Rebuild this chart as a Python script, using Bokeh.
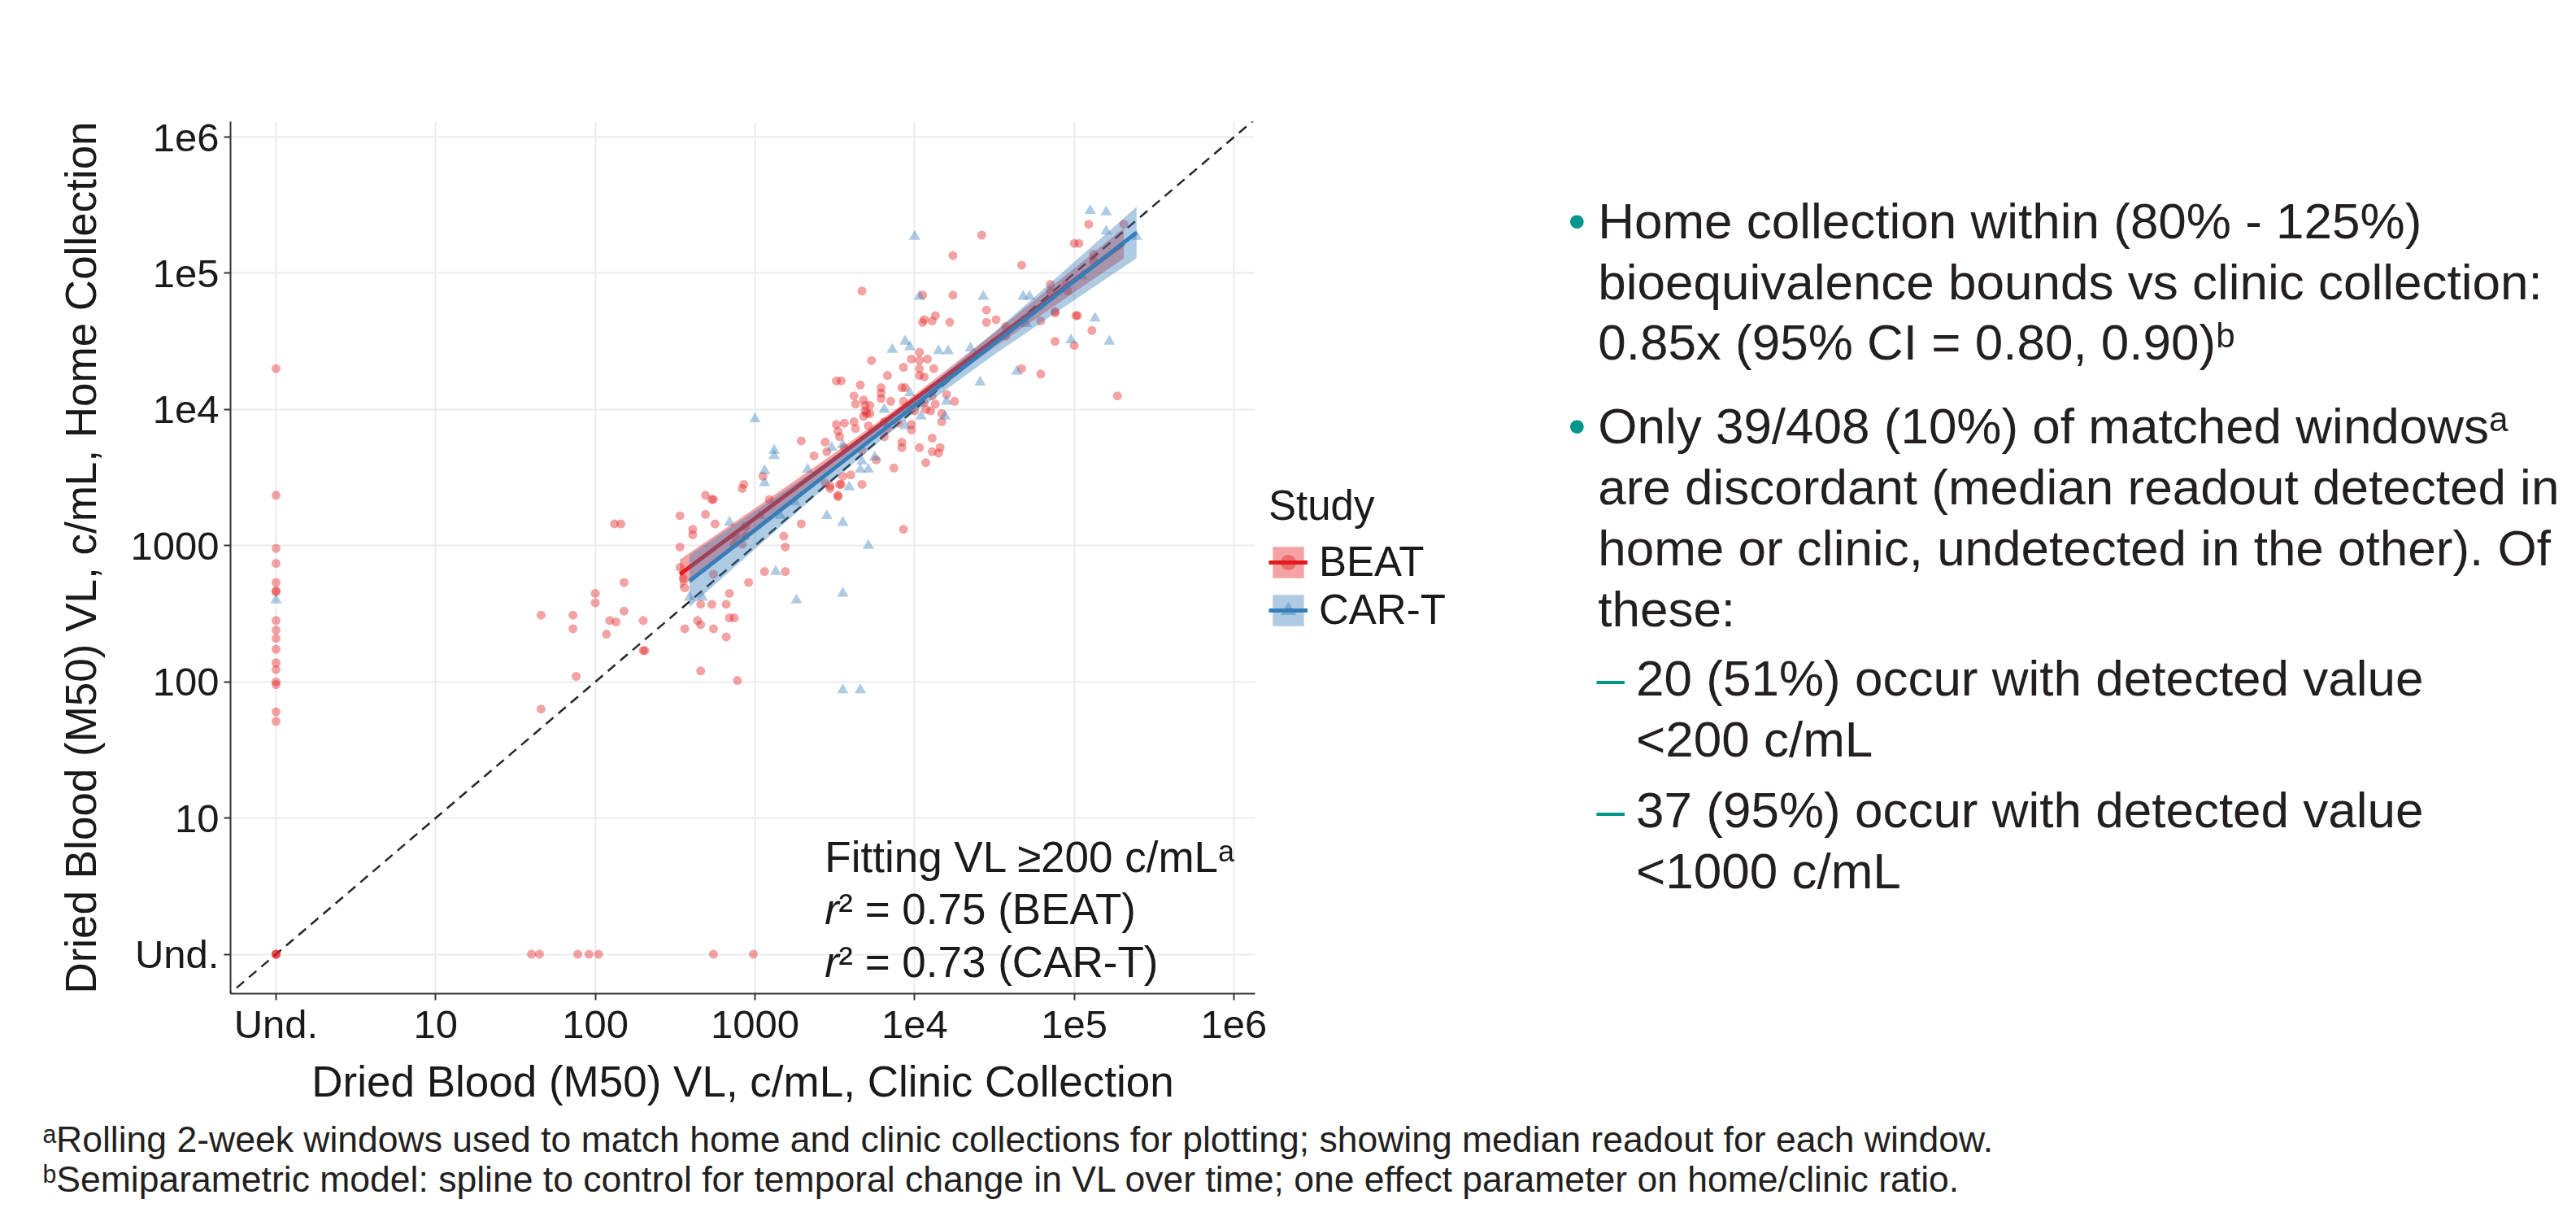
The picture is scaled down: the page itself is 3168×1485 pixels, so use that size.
import numpy as np
from bokeh.plotting import figure
from bokeh.models import Range1d, FixedTicker, Legend, LegendItem, Label
from bokeh.layouts import row, column
from bokeh.embed import file_html
from bokeh.resources import INLINE
from bokeh.core.properties import value

FONT = "Liberation Sans"
RED = "#E41A1C"
BLUE = "#377EB8"
TEAL = "#00968A"
INK = "#1A1A1A"

U = 0.0  # "Und." (undetected) is drawn at log10 = 0

# ---------------- data (log10 c/mL); x = clinic, y = home ----------------
beat_clinic_log = (
    [U] * 20
    + [1.60, 1.65, 1.89, 1.96, 2.02, 2.74, 2.99]
    + [2.69, 2.73, 2.74, 2.53, 2.69, 2.75, 2.12, 2.16, 2.61, 2.61,
       3.09, 3.52, 3.47, 2.92, 3.18, 3.29, 3.19, 3.19, 3.06, 2.96,
       2.53, 2.53, 2.56, 2.74, 2.84, 2.82, 2.73, 2.66, 2.84, 2.87,
       2.64, 2.66, 2.74, 2.56, 2.82, 2.66, 2.89, 2.18, 2.00, 2.00,
       2.18, 2.30, 2.09, 2.13, 2.07, 1.86, 1.86, 1.66, 2.30, 2.31,
       1.88, 1.66, 2.88, 2.94, 2.94, 2.92, 2.87, 2.55]
    + [4.05, 4.06, 4.11, 4.13, 4.22, 4.45, 4.45, 4.51, 4.57, 4.57,
       4.79, 4.88, 4.88, 5.00, 5.02, 5.01, 5.11, 4.67, 4.79, 3.73,
       3.93, 4.03, 4.03, 3.98, 4.08, 4.03, 4.03, 4.06, 4.12, 3.83,
       3.51, 3.54, 3.66, 3.79, 3.79, 3.79, 3.92, 3.94, 3.62, 3.63,
       3.68, 3.69, 3.72, 3.85, 3.69, 3.70, 3.72, 3.68, 3.93, 3.98,
       4.00, 4.06, 4.11, 4.20, 4.25, 4.07, 4.10, 4.13, 4.17, 4.17]
    + [3.51, 3.56, 3.62, 3.63, 3.52, 3.53, 3.71, 3.81, 3.83, 3.81,
       3.90, 3.98, 3.98, 4.11, 3.44, 3.56, 3.67, 3.92, 3.92, 4.03,
       4.11, 4.15, 4.16, 4.07, 3.76, 3.87, 3.55, 3.53, 3.54, 3.44,
       3.47, 3.67, 3.52, 3.93, 3.37, 3.29, 3.45, 3.05, 2.93, 3.60]
    + [5.09, 5.31, 5.00, 5.03, 5.12, 5.12, 4.67, 4.85, 4.85, 4.95,
       4.96, 4.88, 5.27, 4.42, 4.24, 3.67, 4.05, 4.24]
)
beat_home_log = (
    [4.30, 3.37, 2.98, 2.87, 2.73, 2.67, 2.66, 2.45, 2.38, 2.32,
     2.24, 2.14, 2.09, 2.00, 1.98, 1.78, 1.71, U, U, U]
    + [U] * 7
    + [3.37, 3.34, 3.34, 3.22, 3.23, 3.16, 3.16, 3.16, 3.12, 3.08,
       3.34, 3.36, 3.42, 3.42, 3.07, 3.16, 2.99, 2.81, 2.81, 2.73,
       2.99, 2.84, 2.69, 2.79, 2.65, 2.57, 2.57, 2.57, 2.47, 2.47,
       2.45, 2.42, 2.39, 2.39, 2.33, 2.08, 2.01, 2.73, 2.65, 2.58,
       2.52, 2.45, 2.45, 2.44, 2.35, 2.49, 2.39, 2.49, 2.23, 2.23,
       2.04, 1.80, 3.07, 3.14, 3.07, 3.01, 3.01, 2.76]
    + [4.64, 4.66, 4.65, 4.69, 4.64, 4.73, 4.64, 4.66, 4.61, 4.54,
       4.65, 4.71, 4.50, 4.47, 4.69, 4.69, 4.58, 4.30, 4.26, 4.36,
       4.31, 4.42, 4.36, 4.37, 4.37, 4.30, 4.25, 4.24, 4.30, 4.25,
       4.21, 4.21, 4.18, 4.16, 4.12, 4.08, 4.16, 4.16, 4.10, 4.04,
       4.07, 4.03, 4.03, 4.06, 3.99, 3.97, 3.97, 3.95, 4.06, 4.00,
       3.99, 4.05, 4.10, 4.11, 4.06, 4.00, 3.99, 4.04, 3.97, 3.91]
    + [3.89, 3.90, 3.91, 3.86, 3.84, 3.80, 3.88, 3.91, 3.86, 3.80,
       3.90, 3.89, 3.85, 3.79, 3.76, 3.72, 3.70, 3.76, 3.72, 3.72,
       3.69, 3.68, 3.72, 3.61, 3.63, 3.57, 3.51, 3.45, 3.45, 3.46,
       3.44, 3.45, 3.37, 3.12, 3.66, 3.77, 3.69, 3.51, 3.45, 3.52]
    + [5.36, 5.36, 5.22, 5.22, 5.14, 5.09, 5.06, 4.92, 4.87, 4.92,
       4.87, 4.72, 4.10, 5.28, 5.13, 4.87, 4.84, 4.84]
)
cart_clinic_log = [
    2.84, 3.03, 3.16, 3.25, 3.45, 3.55, 3.13, 3.26, 3.55, 3.55,
    3.66, 2.59, 2.67, 3.86, 3.94, 3.97, 4.15, 4.21, 4.35, 5.13,
    4.98, 4.64, 4.41, 4.20, 4.19, 4.04, 3.97, 3.81, 3.94, 3.48,
    3.55, 3.67, 3.66, 3.71, 3.75, 3.59, 3.71, 5.10, 5.20, 5.20,
    5.39, 5.05, 4.68, 4.72, 4.70, 5.22, 4.00, 4.03, 4.43, 3.00,
    3.06, 3.06, 3.12, 3.12, 3.33, U]
cart_home_log = [
    3.17, 3.22, 3.22, 3.32, 3.22, 3.17, 2.81, 2.60, 2.65, 1.94,
    1.94, 2.62, 2.62, 4.44, 4.50, 4.46, 4.43, 4.43, 4.45, 4.67,
    4.51, 4.28, 4.20, 4.06, 3.95, 3.95, 4.12, 4.00, 3.88, 3.72,
    3.74, 3.62, 3.56, 3.56, 3.65, 3.43, 3.00, 5.46, 5.45, 5.31,
    5.27, 4.98, 4.83, 4.83, 4.63, 4.50, 5.27, 4.83, 4.83, 3.93,
    3.55, 3.46, 3.70, 3.66, 3.56, 2.60]

# fitted lines (log10 home = a + b * log10 clinic)
beat_fit = dict(a=0.579, b=0.874, x0=2.53, x1=5.31)
cart_fit = dict(a=0.373, b=0.914, x0=2.59, x1=5.39)
# 95% band half-widths (log10) along each fit
beat_band_x = [2.53, 3.0, 3.5, 3.9, 4.5, 5.0, 5.31]
beat_band_hw = [0.108, 0.074, 0.043, 0.030, 0.054, 0.088, 0.111]
cart_band_x = [2.59, 3.0, 3.5, 4.0, 4.5, 5.0, 5.39]
cart_band_hw = [0.191, 0.140, 0.082, 0.050, 0.082, 0.140, 0.189]

study_labels = ["BEAT", "CAR-T"]
tick_values = [1, 10, 100, 1000, 10000, 100000, 1000000]
tick_labels = ["Und.", "10", "100", "1000", "1e4", "1e5", "1e6"]

x_log_range = (-0.2852, 6.1325)
y_log_range = (-0.2897, 6.114)

# ---------------- page geometry (page pixels, origin top-left) ----------------
W_TOTAL, H_TOTAL = 3160, 1480
FRAME_L, FRAME_T, FRAME_W, FRAME_H = 283, 149, 1260, 1072
RIGHT_PAD = 17
W1 = FRAME_L + FRAME_W + RIGHT_PAD
H1 = 1375
BOTTOM = H1 - FRAME_T - FRAME_H

# ---------------- main scatter figure ----------------
p = figure(width=W1, height=H1, x_axis_type="log", y_axis_type="log",
           x_range=Range1d(10 ** x_log_range[0], 10 ** x_log_range[1]),
           y_range=Range1d(10 ** y_log_range[0], 10 ** y_log_range[1]),
           output_backend="svg", toolbar_location=None,
           min_border_left=FRAME_L, min_border_top=FRAME_T, min_border_right=RIGHT_PAD,
           min_border_bottom=BOTTOM,
           x_axis_label="Dried Blood (M50) VL, c/mL, Clinic Collection",
           y_axis_label="Dried Blood (M50) VL, c/mL, Home Collection")
p.outline_line_color = None
p.background_fill_color = "white"
p.border_fill_color = "white"

for ax in (p.xaxis[0], p.yaxis[0]):
    ax.ticker = FixedTicker(ticks=tick_values)
    ax.major_label_overrides = dict(zip(tick_values, tick_labels))
    ax.minor_tick_line_color = None
    ax.major_tick_in = 0
    ax.major_tick_out = 8
    ax.major_tick_line_width = 2
    ax.major_tick_line_color = "#333333"
    ax.axis_line_width = 2
    ax.axis_line_color = "#333333"
    ax.major_label_text_font = FONT
    ax.major_label_text_font_size = "49px"
    ax.major_label_text_color = INK
    ax.axis_label_text_font = FONT
    ax.axis_label_text_font_size = "53px"
    ax.axis_label_text_font_style = "normal"
    ax.axis_label_text_color = INK
p.xaxis.major_label_standoff = 2
p.xaxis.axis_label_standoff = 11
p.yaxis.major_label_standoff = 6
p.yaxis.axis_label_standoff = 28

for g in (p.xgrid[0], p.ygrid[0]):
    g.ticker = FixedTicker(ticks=tick_values)
    g.grid_line_color = "#EBEBEB"
    g.grid_line_width = 2
    g.minor_grid_line_color = None

# identity line
ends = [10 ** (min(x_log_range[0], y_log_range[0]) - 0.5), 10 ** (max(x_log_range[1], y_log_range[1]) + 0.5)]
p.line(ends, ends, line_color="#262626", line_width=2.5, line_dash="12 8")

POINT_STYLE = [dict(marker="circle", size=11, fill_color=RED, fill_alpha=0.4, line_color=None),
               dict(marker="triangle", size=14, fill_color=BLUE, fill_alpha=0.4, line_color=None)]

p.scatter(10 ** np.array(beat_clinic_log), 10 ** np.array(beat_home_log), **POINT_STYLE[0])
p.scatter(10 ** np.array(cart_clinic_log), 10 ** np.array(cart_home_log), **POINT_STYLE[1])


def band_and_line(fit, bxs, hws, color):
    xs = np.array(bxs)
    mid = fit["a"] + fit["b"] * xs
    hw = np.array(hws)
    p.varea(x=10 ** xs, y1=10 ** (mid - hw), y2=10 ** (mid + hw), fill_color=color, fill_alpha=0.4)
    lx = np.array([fit["x0"], fit["x1"]])
    p.line(10 ** lx, 10 ** (fit["a"] + fit["b"] * lx), line_color=color, line_width=5)


band_and_line(beat_fit, beat_band_x, beat_band_hw, RED)
band_and_line(cart_fit, cart_band_x, cart_band_hw, BLUE)

# in-plot annotation (data coordinates)
ann_x = 10 ** 3.437
ann_y = [10 ** 0.712, 10 ** 0.329, 10 ** -0.056]
p.add_layout(Label(x=ann_x, y=ann_y[0], text="Fitting VL \u2265200 c/mL\u1d43", text_font=FONT,
                   text_font_size="53px", text_color=INK, text_baseline="alphabetic"))
for yy, txt in zip(ann_y[1:], ["\u00b2 = 0.75 (BEAT)", "\u00b2 = 0.73 (CAR-T)"]):
    p.add_layout(Label(x=ann_x, y=yy, text="r", text_font=FONT, text_font_style="italic",
                       text_font_size="53px", text_color=INK, text_baseline="alphabetic"))
    p.add_layout(Label(x=ann_x, y=yy, x_offset=17, text=txt, text_font=FONT,
                       text_font_size="53px", text_color=INK, text_baseline="alphabetic"))

# ---------------- right-hand panel: legend + text (page-pixel coordinates) ----------------
right_lines = [
    "Home collection within (80% - 125%)",
    "bioequivalence bounds vs clinic collection:",
    "0.85x (95% CI = 0.80, 0.90)\u1d47",
    "Only 39/408 (10%) of matched windows\u1d43",
    "are discordant (median readout detected in",
    "home or clinic, undetected in the other). Of",
    "these:",
    "20 (51%) occur with detected value",
    "<200 c/mL",
    "37 (95%) occur with detected value",
    "<1000 c/mL",
]
right_level = [1, 1, 1, 1, 1, 1, 1, 2, 2, 2, 2]
right_rows_y = [271, 346, 420, 523.3, 598.3, 673.3, 748.3, 833.3, 908.3, 995, 1070]
bullet_rows = [0, 3]
dash_rows = [7, 9]
level_x = {1: 1964.7, 2: 2011.6}

W2 = W_TOTAL - W1
pt = figure(width=W2, height=H1, x_range=Range1d(W1, W1 + W2),
            y_range=Range1d(FRAME_T + FRAME_H, FRAME_T),
            output_backend="svg", toolbar_location=None,
            min_border_left=0, min_border_right=0, min_border_top=FRAME_T, min_border_bottom=BOTTOM,
            x_axis_location=None, y_axis_location=None)
pt.grid.visible = False
pt.outline_line_color = None

# legend proxies (same styles as the plotted glyphs, placed off-canvas)
items = []
for lab, col, sty in zip(study_labels, [RED, BLUE], POINT_STYLE):
    rb = pt.varea(x=[0, 1], y1=[0, 0], y2=[1, 1], fill_color=col, fill_alpha=0.4)
    rl = pt.line([0, 1], [0, 0], line_color=col, line_width=5)
    rs = pt.scatter([0], [0], **sty)
    items.append(LegendItem(label=lab, renderers=[rb, rl, rs]))
legend = Legend(items=items, title="Study", location=(0, FRAME_T + FRAME_H - 779), orientation="vertical",
                glyph_width=48, glyph_height=48, spacing=0, padding=0, margin=0,
                label_standoff=14, label_text_font=FONT, label_text_font_size="51px",
                label_text_color=INK, title_text_font=FONT, title_text_font_size="51px",
                title_text_font_style="normal", title_text_color=INK, title_standoff=10,
                border_line_color=None, background_fill_alpha=0)
pt.add_layout(legend)

pt.text(x=[level_x[l] for l in right_level], y=right_rows_y, text=right_lines,
        text_font=value(FONT), text_font_size=value("62px"), text_color="#231F20",
        text_baseline="alphabetic", text_align="left")
pt.text(x=[1928] * len(bullet_rows), y=[right_rows_y[i] for i in bullet_rows], text=["\u2022"] * len(bullet_rows),
        text_font=value(FONT), text_font_size=value("62px"), text_color=TEAL,
        text_baseline="alphabetic", text_align="left")
pt.text(x=[1963] * len(dash_rows), y=[right_rows_y[i] for i in dash_rows], text=["\u2013"] * len(dash_rows),
        text_font=value(FONT), text_font_size=value("62px"), text_color=TEAL,
        text_baseline="alphabetic", text_align="left")

# ---------------- footnotes ----------------
footnotes = [
    "\u1d43Rolling 2-week windows used to match home and clinic collections for plotting; showing median readout for each window.",
    "\u1d47Semiparametric model: spline to control for temporal change in VL over time; one effect parameter on home/clinic ratio.",
]
foot_rows_y = [1400, 1449]
H3 = H_TOTAL - H1
pf = figure(width=W_TOTAL, height=H3, x_range=Range1d(0, W_TOTAL), y_range=Range1d(H1 + H3, H1),
            output_backend="svg", toolbar_location=None, min_border=0,
            x_axis_location=None, y_axis_location=None)
pf.grid.visible = False
pf.outline_line_color = None
pf.text(x=[52] * 2, y=foot_rows_y, text=footnotes, text_font=value(FONT),
        text_font_size=value("44.5px"), text_color="#231F20", text_baseline="alphabetic", text_align="left")

layout = column(row(p, pt, spacing=0), pf, spacing=0)
open("out.html", "w").write(file_html(layout, INLINE))
